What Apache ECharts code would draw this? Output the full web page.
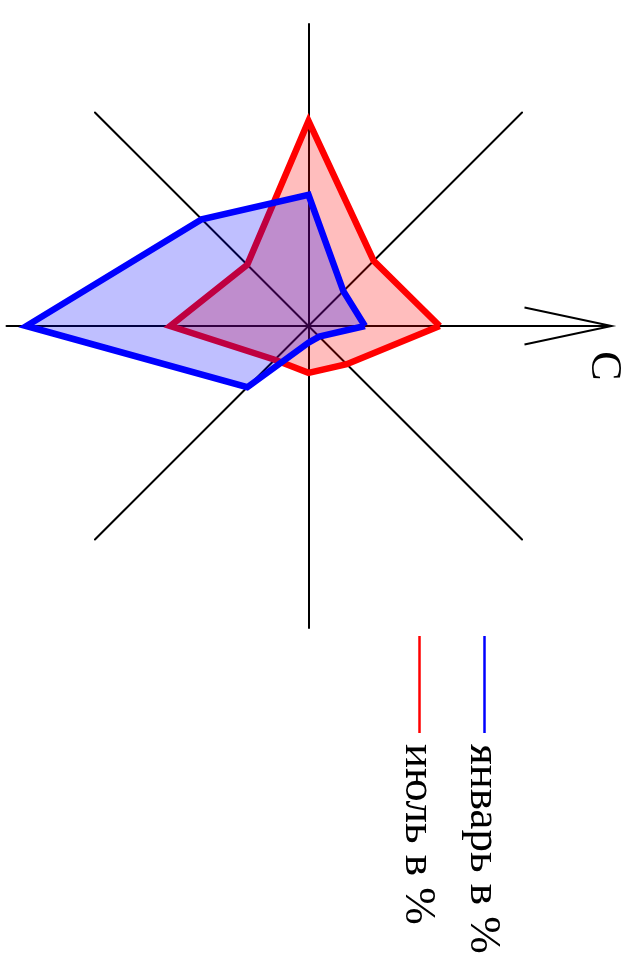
<!DOCTYPE html>
<html>
<head>
<meta charset="utf-8">
<script src="https://cdn.jsdelivr.net/npm/echarts@6/dist/echarts.min.js"></script>
<style>
  html, body { margin: 0; padding: 0; background: #fff; }
  #rose { width: 639px; height: 957px; }
</style>
</head>
<body>
<div id="rose"></div>
<script>
// compass order: N, NE, E, SE, S, SW, W, NW
var directions = ['С', 'СВ', 'В', 'ЮВ', 'Ю', 'ЮЗ', 'З', 'СЗ'];
var january = [7.1, 1.9, 2.1, 10.9, 35.5, 19.0, 16.5, 6.2];
var july = [16.5, 6.8, 5.9, 6.0, 17.4, 10.9, 25.8, 11.6];
var seriesNames = ['январь в %', 'июль в %'];
var axisMax = 38;

var cx = 308.5, cy = 326, R = 302;
var font = '"Liberation Serif", "Times New Roman", serif';

// radar goes counter-clockwise, the picture goes clockwise from N (pointing right)
function ccw(arr) {
  return [arr[0]].concat(arr.slice(1).reverse());
}

var chart = echarts.init(document.getElementById('rose'));

var option = {
  backgroundColor: '#fff',
  animation: false,
  radar: {
    center: [cx, cy],
    radius: R,
    startAngle: 0,
    shape: 'polygon',
    indicator: ccw(directions).map(function (d) {
      return { name: d, max: axisMax, min: 0 };
    }),
    axisName: { show: false },
    splitNumber: 1,
    splitLine: { show: false },
    splitArea: { show: false },
    axisLine: { lineStyle: { color: '#000', width: 2 } },
    axisTick: { show: false },
    axisLabel: { show: false }
  },
  series: [{
    type: 'radar',
    symbol: 'none',
    data: [{
      name: seriesNames[1],
      value: ccw(july),
      lineStyle: { color: '#ff0000', width: 6.5, join: 'miter' },
      areaStyle: { color: 'rgba(255,0,0,0.37)' }
    }, {
      name: seriesNames[0],
      value: ccw(january),
      lineStyle: { color: '#0000ff', width: 6.5, join: 'miter' },
      areaStyle: { color: 'rgba(0,0,255,0.36)' }
    }]
  }],
  graphic: [
    // arrow head on the north axis
    {
      type: 'polyline',
      shape: { points: [[cx + R - 86, cy - 18.5], [cx + R + 1, cy], [cx + R - 86, cy + 18.5]] },
      style: { stroke: '#000', lineWidth: 2, fill: null }
    },
    {
      type: 'text',
      x: 626, y: 366, rotation: -Math.PI / 2,
      style: { text: directions[0], font: '44px ' + font, fill: '#000', align: 'center', verticalAlign: 'top' }
    },
    // legend
    {
      type: 'line',
      shape: { x1: 484.5, y1: 636, x2: 484.5, y2: 733 },
      style: { stroke: '#0000ff', lineWidth: 2.5 }
    },
    {
      type: 'text',
      x: 505, y: 744, rotation: -Math.PI / 2,
      style: { text: seriesNames[0], font: '45px ' + font, fill: '#000', align: 'left', verticalAlign: 'top' }
    },
    {
      type: 'line',
      shape: { x1: 419.5, y1: 636, x2: 419.5, y2: 733 },
      style: { stroke: '#ff0000', lineWidth: 2.5 }
    },
    {
      type: 'text',
      x: 440, y: 744, rotation: -Math.PI / 2,
      style: { text: seriesNames[1], font: '45px ' + font, fill: '#000', align: 'left', verticalAlign: 'top' }
    }
  ]
};

chart.setOption(option);
</script>
</body>
</html>
